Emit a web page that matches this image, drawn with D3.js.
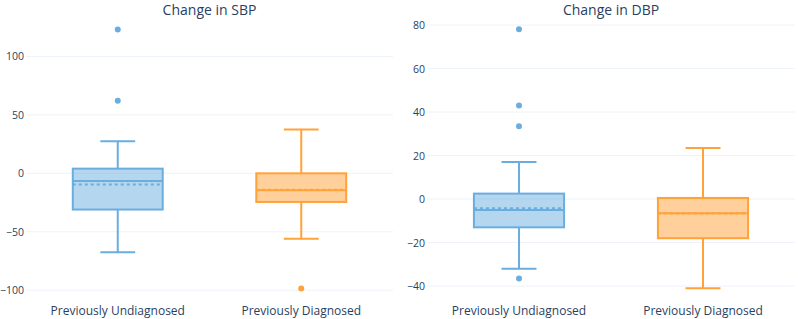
<!DOCTYPE html>
<html>
<head>
<meta charset="UTF-8">
<script src="https://d3js.org/d3.v7.min.js"></script>
<style>
  body { margin: 0; background: #fff; }
  text { font-family: "Open Sans", sans-serif; fill: #2a3f5f; }
</style>
</head>
<body>
<script>
// groups on the x axis
var groups = ["Previously Undiagnosed", "Previously Diagnosed"];
var colors = ["#6aaee0", "#ffa23a"];

// Change in SBP box stats
var sbpQ1 = [-31, -24.5];
var sbpMedian = [-6.5, -14.5];
var sbpQ3 = [4, 0];
var sbpMean = [-9.5, -14];
var sbpLow = [-67.5, -56];
var sbpHigh = [27.5, 37.5];
var sbpOutliers = [[123, 62], [-98.5]];
var sbpTicks = [-100, -50, 0, 50, 100];

// Change in DBP box stats
var dbpQ1 = [-13, -18];
var dbpMedian = [-5, -6.5];
var dbpQ3 = [2.5, 0.5];
var dbpMean = [-4.2, -6.6];
var dbpLow = [-32, -41];
var dbpHigh = [17, 23.5];
var dbpOutliers = [[78, 43, 33.5, -36.5], []];
var dbpTicks = [-40, -20, 0, 20, 40, 60, 80];

var width = 798, height = 319;
var svg = d3.select("body").append("svg")
    .attr("width", width)
    .attr("height", height);

function panel(title, x0, x1, domain, ticks, q1, med, q3, mean, lo, hi, outl) {
  var top = 20, bottom = 300;
  var x = d3.scaleBand().domain(groups).range([x0, x1]);
  var y = d3.scaleLinear().domain(domain).range([bottom, top]);
  var g = svg.append("g");

  // grid
  g.selectAll(".grid").data(ticks).enter().append("line")
    .attr("x1", x0).attr("x2", x1)
    .attr("y1", d => y(d)).attr("y2", d => y(d))
    .attr("stroke", "#eef2f9").attr("stroke-width", 1);

  // y tick labels
  g.selectAll(".tick").data(ticks).enter().append("text")
    .attr("x", x0 - 2).attr("y", d => y(d) + 4)
    .attr("text-anchor", "end")
    .style("font-size", "10.5px")
    .text(d => d < 0 ? "\u2212" + Math.abs(d) : d);

  // x labels
  g.selectAll(".xl").data(groups).enter().append("text")
    .attr("x", d => x(d) + x.bandwidth() / 2)
    .attr("y", 315)
    .attr("text-anchor", "middle")
    .style("font-size", "12px")
    .text(d => d);

  // title
  g.append("text")
    .attr("x", (x0 + x1) / 2).attr("y", 15)
    .attr("text-anchor", "middle")
    .style("font-size", "14px")
    .text(title);

  var bw = x.bandwidth() * 0.49, cw = x.bandwidth() * 0.19;
  groups.forEach(function(name, i) {
    var cx = x(name) + x.bandwidth() / 2;
    var c = colors[i];
    // whiskers
    g.append("line").attr("x1", cx).attr("x2", cx)
      .attr("y1", y(hi[i])).attr("y2", y(q3[i]))
      .attr("stroke", c).attr("stroke-width", 2);
    g.append("line").attr("x1", cx).attr("x2", cx)
      .attr("y1", y(q1[i])).attr("y2", y(lo[i]))
      .attr("stroke", c).attr("stroke-width", 2);
    [hi[i], lo[i]].forEach(function(v) {
      g.append("line").attr("x1", cx - cw / 2).attr("x2", cx + cw / 2)
        .attr("y1", y(v)).attr("y2", y(v))
        .attr("stroke", c).attr("stroke-width", 2);
    });
    // box
    g.append("rect")
      .attr("x", cx - bw / 2).attr("width", bw)
      .attr("y", y(q3[i])).attr("height", y(q1[i]) - y(q3[i]))
      .attr("fill", c).attr("fill-opacity", 0.5)
      .attr("stroke", c).attr("stroke-width", 2);
    // median
    g.append("line").attr("x1", cx - bw / 2).attr("x2", cx + bw / 2)
      .attr("y1", y(med[i])).attr("y2", y(med[i]))
      .attr("stroke", c).attr("stroke-width", 2);
    // mean
    g.append("line").attr("x1", cx - bw / 2).attr("x2", cx + bw / 2)
      .attr("y1", y(mean[i])).attr("y2", y(mean[i]))
      .attr("stroke", c).attr("stroke-width", 2)
      .attr("stroke-dasharray", "3,3");
    // outliers
    g.selectAll(".o" + i).data(outl[i]).enter().append("circle")
      .attr("cx", cx).attr("cy", d => y(d)).attr("r", 3)
      .attr("fill", c);
  });
}

panel("Change in SBP", 26, 393, [-108.4, 131.2], sbpTicks,
  sbpQ1, sbpMedian, sbpQ3, sbpMean, sbpLow, sbpHigh, sbpOutliers);
panel("Change in DBP", 427, 795, [-46.4, 82.3], dbpTicks,
  dbpQ1, dbpMedian, dbpQ3, dbpMean, dbpLow, dbpHigh, dbpOutliers);
</script>
</body>
</html>
